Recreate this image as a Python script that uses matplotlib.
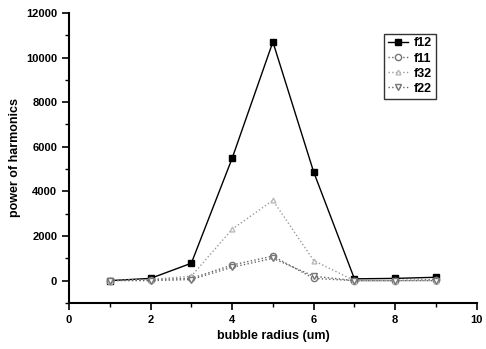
import matplotlib
matplotlib.use("Agg")
import matplotlib.pyplot as plt
from matplotlib.ticker import MultipleLocator

radius = [1, 2, 3, 4, 5, 6, 7, 8, 9]
f12 = [0, 100, 780, 5480, 10700, 4870, 80, 100, 150]
f11 = [0, 50, 100, 700, 1100, 100, 0, 0, 50]
f32 = [0, 50, 200, 2300, 3600, 900, 0, 0, 0]
f22 = [0, 0, 50, 600, 1000, 200, 0, 0, 0]

plt.rcParams['font.family'] = ['Liberation Sans', 'DejaVu Sans']
plt.rcParams['font.weight'] = 'bold'

fig = plt.figure(figsize=(4.86, 3.49), dpi=100)
ax = fig.add_axes([0.142, 0.132, 0.839, 0.831])

ax.plot(radius, f12, '-s', color='black', lw=1.0, ms=5, label='f12')
ax.plot(radius, f11, ':o', color='#666666', lw=1.0, ms=4.5, mfc='white', mec='#777777', label='f11')
ax.plot(radius, f32, ':^', color='#999999', lw=1.0, ms=3.5, mfc='white', mec='#bbbbbb', label='f32')
ax.plot(radius, f22, ':v', color='#666666', lw=1.0, ms=4.5, mfc='white', mec='#777777', label='f22')

ax.set_xlim(0, 10)
ax.set_ylim(-1000, 12000)
ax.xaxis.set_major_locator(MultipleLocator(2))
ax.xaxis.set_minor_locator(MultipleLocator(1))
ax.yaxis.set_major_locator(MultipleLocator(2000))
ax.yaxis.set_minor_locator(MultipleLocator(1000))
ax.spines['top'].set_visible(False)
ax.spines['right'].set_visible(False)
ax.spines['left'].set_linewidth(1.5)
ax.spines['bottom'].set_linewidth(1.5)
ax.tick_params(which='major', direction='out', length=5, width=1.2, labelsize=8)
ax.tick_params(which='minor', direction='out', length=3, width=1.0)

ax.set_xlabel('bubble radius (um)', fontsize=9, fontweight='bold')
ax.set_ylabel('power of harmonics', fontsize=9, fontweight='bold')

leg = ax.legend(loc='upper right', bbox_to_anchor=(0.915, 0.95), fontsize=9,
                frameon=True, fancybox=False, edgecolor='black', handlelength=1.6,
                handletextpad=0.5, borderpad=0.3, labelspacing=0.25)
leg.get_frame().set_linewidth(1.0)

fig.savefig('out.png', dpi=100)
